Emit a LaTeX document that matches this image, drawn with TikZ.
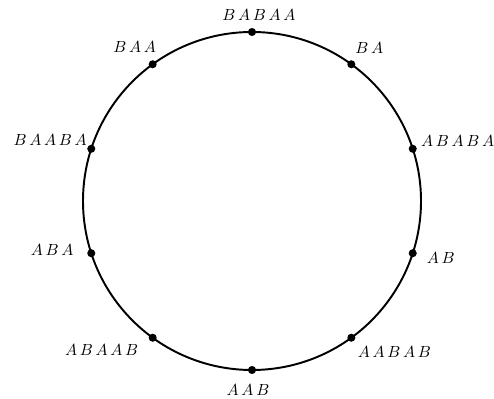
\documentclass[tikz,border=0pt]{standalone}
\usepackage{amsmath}
\usetikzlibrary{calc}

\tikzset{
  dot/.style={circle,fill=black,inner sep=0pt,minimum size=5pt},
  word/.style={inner sep=0pt,font=\normalsize}
}

\begin{document}
\begin{tikzpicture}[x=0.62pt,y=0.62pt]
  \useasboundingbox (0,0) rectangle (494,399);
  \coordinate (o) at (252,198);
  \draw[line width=1.2pt] (o) circle (169);
  % points on the circle with their words
  \foreach \i/\ang/\dx/\dy/\txt in {
      1/90/7/17/{B\,A\,B\,A\,A},
      2/54/18/16/{B\,A},
      3/18/45/8/{A\,B\,A\,B\,A},
      4/-18/28/-5/{A\,B},
      5/-54/43/-14/{A\,A\,B\,A\,B},
      6/-90/-4/-20/{A\,A\,B},
      7/-126/-51/-12/{A\,B\,A\,A\,B},
      8/-162/-39/3/{A\,B\,A},
      9/162/-41/9/{B\,A\,A\,B\,A},
      10/126/-18/17/{B\,A\,A}} {
    \node[dot] (p\i) at ($(o)+(\ang:169)$) {};
    \node[word] (w\i) at ($(p\i)+(\dx,\dy)$) {$\txt$};
  }
\end{tikzpicture}
\end{document}
